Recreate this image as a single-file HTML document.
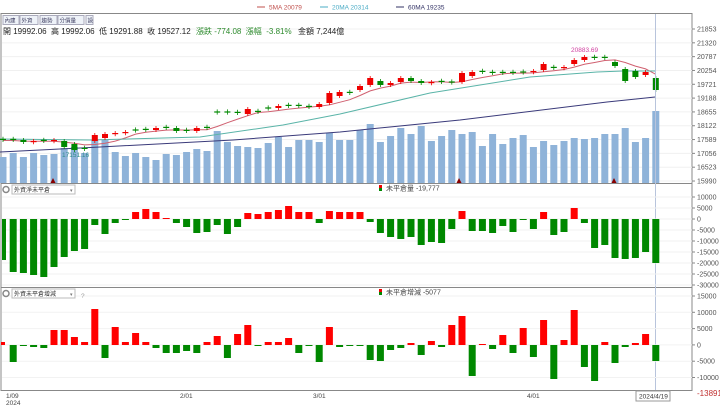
<!DOCTYPE html>
<html><head><meta charset="utf-8">
<style>
html,body{margin:0;padding:0;background:#fff;width:720px;height:406px;overflow:hidden;font-family:"Liberation Sans","Noto Sans CJK TC",sans-serif;}
svg{display:block}
text{font-family:"Liberation Sans","Noto Sans CJK TC",sans-serif;}
</style></head><body>
<svg id="s" width="720" height="406" xmlns="http://www.w3.org/2000/svg"></svg>
<script>
const S=document.getElementById('s');let h='';
const X=i=>3+10.2*i;
// frame
h+='<rect x="1" y="13.5" width="691" height="377" fill="none" stroke="#888" stroke-width="1"/>';
h+='<line x1="1" y1="183.5" x2="692" y2="183.5" stroke="#888"/>';
h+='<line x1="1" y1="287.5" x2="692" y2="287.5" stroke="#888"/>';
// price grid & labels
const pl=[21853,21320,20787,20254,19721,19188,18655,18122,17589,17056,16523,15990];
pl.forEach((p,k)=>{const y=29+k*13.82;h+=`<line x1="2" y1="${y}" x2="692" y2="${y}" stroke="#f0f0f0"/><line x1="692" y1="${y}" x2="695" y2="${y}" stroke="#888"/><text x="697" y="${y+2.5}" font-size="7" fill="#555">${p}</text>`;});
// legend
h+='<line x1="257" y1="7" x2="265" y2="7" stroke="#c0504d"/><text x="269" y="9.5" font-size="6.5" fill="#c0504d">5MA 20079</text>';
h+='<line x1="320" y1="7" x2="328" y2="7" stroke="#4bacc6"/><text x="332" y="9.5" font-size="6.5" fill="#4bacc6">20MA 20314</text>';
h+='<line x1="396" y1="7" x2="404" y2="7" stroke="#333366"/><text x="408" y="9.5" font-size="6.5" fill="#333366">60MA 19235</text>';
// toolbar
[[3,16,'內建'],[20,18,'外資'],[40,17,'趨勢'],[58,26,'分價量'],[86,7,'設']].forEach(b=>{h+=`<rect x="${b[0]}" y="15.5" width="${b[1]}" height="9" fill="#eef2f8" stroke="#aab"/><text x="${b[0]+1.5}" y="22.5" font-size="5.5" fill="#446">${b[2]}</text>`});
h+='<text x="3" y="34" font-size="8" fill="#222">開 19992.06 &#160;高 19992.06 &#160;低 19291.88 &#160;收 19527.12</text>';
h+='<text x="196" y="34" font-size="8" fill="#2e8b2e">漲跌 -774.08 &#160;漲幅 &#160;-3.81%</text><text x="298" y="34" font-size="8" fill="#222">金額 7,244億</text>';
// volume
const vt=[157,153,157,153,155,154,148,147,153,140,140,152,156,153,157,160,154,155,152,149,151,131,142,146,147,148,143,137,147,140,140,142,133,140,140,130,124,142,136,128,134,126,141,136,130,134,132,146,134,144,138,135,147,141,145,141,138,139,138,134,134,128,142,138,111];
vt.forEach((t,i)=>{h+=`<rect x="${X(i)-3.5}" y="${t}" width="7" height="${183-t}" fill="#8fb3d9"/>`});
// closes (y)
const c=[140,140,142,141,141,140,144,148,149,139,134,133,132,130,130,128,128,131,131,128,128,112,112,113,111,112,108,106,106,106,107,104,99,93,93,86,81,85,83,78,81,83,82,82,82,77,72,72,73,73,73,72,71,67,68,67,60,57,58,58,64,73,75,72,85];
const ma=(n)=>c.map((v,i)=>{let a=Math.max(0,i-n+1),s=0;for(let j=a;j<=i;j++)s+=c[j];return s/(i-a+1)});
const m5=ma(5);h+='<polyline fill="none" stroke="#d06070" stroke-width="1" points="'+m5.map((v,i)=>X(i)+','+(v+0.5)).join(' ')+'"/>';
const pts=(a)=>a.map(p=>p[0]+','+p[1]).join(' ');
h+='<polyline fill="none" stroke="#5ab4a8" stroke-width="1" points="'+pts([[0,139],[90,140],[200,137],[283,125],[340,114],[430,93],[530,77],[597,72],[623,71],[655,71]])+'"/>';
h+='<polyline fill="none" stroke="#3a3a7a" stroke-width="1" points="'+pts([[0,152],[100,147],[233,140],[340,132],[460,120],[607,102],[655,97]])+'"/>';
const big={9:[135,141],7:[144,150],6:[141,147],32:[93,103],33:[92,96],36:[78,85],61:[69,81],62:[71,77],64:[78,90],60:[62,66],53:[64,70],45:[73,82],24:[109,114]};
c.forEach((v,i)=>{const p=i?c[i-1]:v;let up=v<p;let t,b;if(big[i]){t=big[i][0];b=big[i][1]}else{let d=Math.min(Math.abs(v-p),4);t=up?v:v-Math.max(d,1.2);b=up?v+Math.max(d,1.2):v;if(i==21||i==22||i==26||i==13||i==44||i==51){t=v-0.6;b=v+0.6;up=false}}
const col=up?'#e00':'#080';h+=`<line x1="${X(i)}" y1="${t-2}" x2="${X(i)}" y2="${b+2}" stroke="${col}" stroke-width="0.8"/><rect x="${X(i)-3}" y="${t}" width="6" height="${Math.max(b-t,1.2)}" fill="${col}"/>`});
h+='<text x="62" y="157" font-size="6.5" fill="#2e8b8b">17151.16</text><text x="571" y="52" font-size="6.5" fill="#d040a0">20883.69</text>';
[53,459,614].forEach(x=>h+=`<polygon points="${x-2.5},183 ${x+2.5},183 ${x},178" fill="#800"/>`);
// crosshair
h+='<line x1="655.5" y1="14" x2="655.5" y2="390" stroke="#b8c4dc" stroke-width="1"/>';
// panel1
const z1=219,s1=[-41,-53,-54,-56,-58,-48,-38,-32,-30,-6,-15,-4,-1,7,10,7,1,-4,-8,-14,-13,-6,-15,-8,6,5,7,9,13,7,7,-4,8,7,7,7,-3,-14,-18,-20,-18,-26,-23,-24,-10,8,-12,-12,-14,-7,-13,-1,-10,7,-16,-13,11,-4,-29,-26,-39,-40,-39,-33,-44];
[10000,5000,0,-5000,-10000,-15000,-20000,-25000,-30000].forEach((v,k)=>{const y=197+k*11;h+=`<line x1="2" y1="${y}" x2="692" y2="${y}" stroke="#f2f2f2"/><line x1="692" y1="${y}" x2="695" y2="${y}" stroke="#888"/><text x="697" y="${y+2.5}" font-size="7" fill="#555">${v}</text>`});
s1.forEach((v,i)=>{const w=i==0?4:7,x=i==0?2:X(i)-3.5;h+=`<rect x="${x}" y="${v>0?z1-v:z1}" width="${w}" height="${Math.max(Math.abs(v),1)}" fill="${v>0?'#f00':'#080'}"/>`});
// panel2
const z2=345,s2=[3,-17,-1,-2,-3,15,15,8,3,36,-13,18,3,12,3,-3,-8,-8,-6,-8,3,9,-13,11,20,-1,3,3,7,-8,-1,-17,18,-2,-1,-1,-15,-16,-5,-3,2,-10,4,-2,20,29,-31,1,-4,10,-8,17,-12,25,-34,5,35,-22,-36,3,-18,-2,2,11,-16];
[15000,10000,5000,0,-5000,-10000].forEach((v,k)=>{const y=296+k*16.3;h+=`<line x1="2" y1="${y}" x2="692" y2="${y}" stroke="#f2f2f2"/><line x1="692" y1="${y}" x2="695" y2="${y}" stroke="#888"/><text x="697" y="${y+2.5}" font-size="7" fill="#555">${v}</text>`});
h+='<text x="697" y="396" font-size="8" fill="#c03030">-13891</text>';
s2.forEach((v,i)=>{const w=i==0?4:7,x=i==0?1:X(i)-3.5;h+=`<rect x="${x}" y="${v>0?z2-v:z2}" width="${w}" height="${Math.max(Math.abs(v),1)}" fill="${v>0?'#f00':'#080'}"/>`});
// panel headers
[[185,'外資淨未平倉'],[289,'外資未平倉增減']].forEach(p=>{h+=`<circle cx="6" cy="${p[0]+4.5}" r="3" fill="none" stroke="#888" stroke-width="1.5"/><rect x="12" y="${p[0]}" width="63" height="9" fill="#fff" stroke="#bbb"/><text x="14" y="${p[0]+7}" font-size="6" fill="#333">${p[1]}</text><text x="70" y="${p[0]+7}" font-size="5" fill="#777">▾</text>`});
h+='<text x="81" y="298" font-size="6.5" fill="#999">?</text>';
[[188,'未平倉量 -19,777'],[292,'未平倉增減 -5077']].forEach(p=>{h+=`<rect x="379" y="${p[0]-3}" width="3" height="3" fill="#e00"/><rect x="379" y="${p[0]}" width="3" height="3" fill="#080"/><text x="386" y="${p[0]+2.5}" font-size="7" fill="#444">${p[1]}</text>`});
// dates
[[6,'1/09'],[180,'2/01'],[313,'3/01'],[527,'4/01']].forEach(d=>h+=`<text x="${d[0]}" y="398" font-size="6.5" fill="#444">${d[1]}</text>`);
h+='<text x="6" y="405" font-size="6.5" fill="#444">2024</text>';
h+='<rect x="636" y="391" width="34" height="10" fill="#fff" stroke="#999"/><text x="639" y="398.5" font-size="6.5" fill="#333">2024/4/19</text>';
S.innerHTML=h;
</script>
</body></html>
